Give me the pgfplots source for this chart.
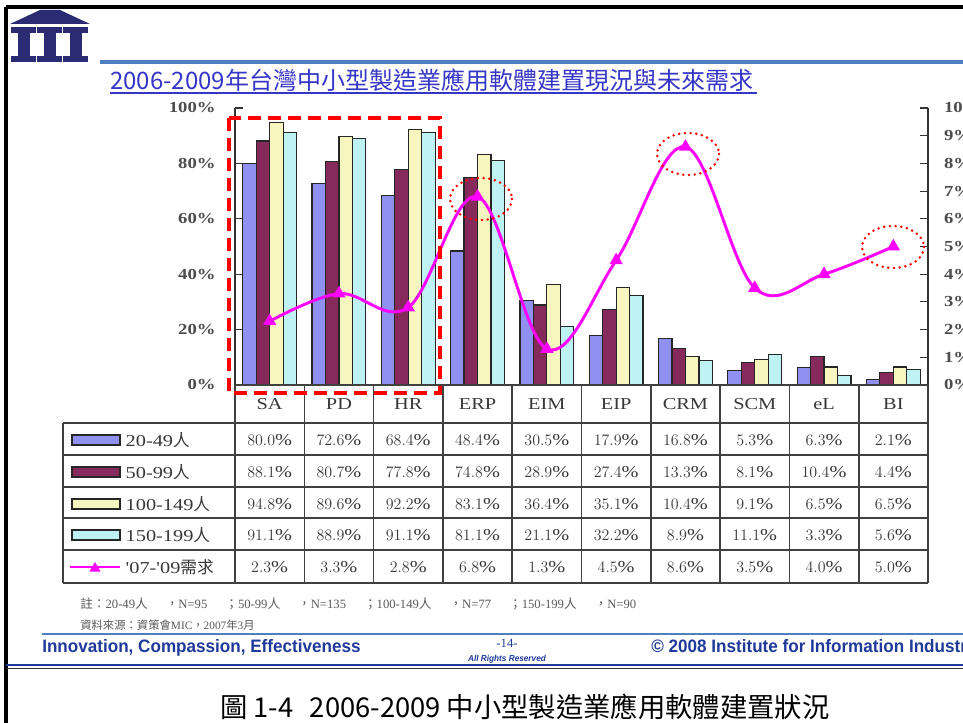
\documentclass[border=0pt]{standalone}
\usepackage{pgfplots}
\pgfplotsset{compat=1.18}
\usepackage{pgfplotstable}
\usepackage{fontspec}
\setmainfont{Liberation Serif}
\newfontfamily\cell[FakeStretch=1.22]{Liberation Serif}
\newfontfamily\cjk{Noto Sans CJK TC}
\newfontfamily\tnr{Liberation Serif}
\newfontfamily\narrow[FakeStretch=0.95]{Liberation Sans}
\newcommand\cj[1]{{\cjk #1}}

\definecolor{cA}{HTML}{9090F0}
\definecolor{cB}{HTML}{862A5C}
\definecolor{cC}{HTML}{F7F5C0}
\definecolor{cD}{HTML}{BFF2F2}
\definecolor{mag}{HTML}{FF00FF}
\definecolor{navy}{HTML}{2B2B73}
\definecolor{steel}{HTML}{4F7FC0}
\definecolor{ttl}{HTML}{3535C8}
\definecolor{foot}{HTML}{1F3A9A}
\definecolor{txt}{HTML}{383838}

% x = category, a..d = company size groups (%), e = '07-'09 demand (%)
\pgfplotstableread{
x cat a    b    c    d    e
0 SA  80.0 88.1 94.8 91.1 2.3
1 PD  72.6 80.7 89.6 88.9 3.3
2 HR  68.4 77.8 92.2 91.1 2.8
3 ERP 48.4 74.8 83.1 81.1 6.8
4 EIM 30.5 28.9 36.4 21.1 1.3
5 EIP 17.9 27.4 35.1 32.2 4.5
6 CRM 16.8 13.3 10.4 8.9  8.6
7 SCM 5.3  8.1  9.1  11.1 3.5
8 eL  6.3  10.4 6.5  3.3  4.0
9 BI  2.1  4.4  6.5  5.6  5.0
}\data

\pgfplotsset{
  base/.style={
    at={(176.25pt,-288.75pt)}, anchor=south west,
    scale only axis, width=519.75pt, height=207.75pt,
    xmin=-0.5, xmax=9.5,
    tick align=inside, major tick length=6pt,
    axis line style={black!80, line width=1pt},
    every tick/.style={black!80, line width=0.8pt},
    /pgf/number format/assume math mode=true,
    yticklabel style={font=\cell\bfseries\fontsize{11.5}{12}\selectfont, text=black!70},
    yticklabel={\pgfmathprintnumber{\tick}\%},
  }
}

\begin{document}
\begin{tikzpicture}
\path[use as bounding box] (0pt,0pt) rectangle (722.25pt,-542.25pt);
\clip (0pt,0pt) rectangle (722.25pt,-542.25pt);
\fill[white] (0pt,0pt) rectangle (722.25pt,-542.25pt);

% bars, left axis
\begin{axis}[base,
  ymin=0, ymax=100,
  axis x line*=bottom, axis y line*=left,
  xtick=\empty, ytick={0,20,...,100},
  yticklabel style={xshift=-11pt},
  ybar=0pt, bar width=10.1pt,
  every axis plot/.append style={draw=black!85, line width=0.9pt},
]
\addplot[fill=cA] table[x=x,y=a]{\data};
\addplot[fill=cB] table[x=x,y=b]{\data};
\addplot[fill=cC] table[x=x,y=c]{\data};
\addplot[fill=cD] table[x=x,y=d]{\data};
\end{axis}

% demand line, right axis
\begin{axis}[base,
  ymin=0, ymax=10,
  axis x line=none, axis y line*=right,
  ytick={0,1,...,10},
  yticklabel style={xshift=8.5pt},
  clip=false,
]
\addplot[mag, line width=2.2pt, smooth, tension=0.6,
  mark=triangle*, mark size=3.6pt, mark options={solid, fill=mag}]
  table[x=x,y=e]{\data};
\end{axis}

\begin{scope}[x=0.75pt, y=-0.75pt]
% frame
\draw[black, line width=2.3pt] (6,7) -- (963,7);
\draw[black, line width=2.3pt] (6,7) -- (6,723);

% logo
\fill[navy] (10,24) -- (40,10) -- (60,10) -- (90,24) -- cycle;
\foreach \L in {11,37,63} {
  \fill[navy] (\L,27) rectangle ++(25,6);
  \fill[navy] (\L+6.5,33) rectangle ++(12,23);
  \fill[navy] (\L,56) rectangle ++(25,6);
}
\draw[steel, line width=2.6pt] (100,62) -- (963,62);

% title
\node[anchor=west, text=ttl, inner sep=0pt] at (110,80)
  {\cjk\fontsize{18}{18}\selectfont 2006-2009年台灣中小型製造業應用軟體建置現況與未來需求};
\draw[ttl, line width=0.8pt] (110,93) -- (757,93);

% table grid
\begin{scope}[draw=black!75, line width=1.2pt]
\foreach \yy in {423,455,487,518,550,583} \draw (63,\yy) -- (928,\yy);
\draw (63,423) -- (63,583);
\draw (235,385) -- (928,385);
\foreach \k in {0,...,10} \draw ({235+69.3*\k},385) -- ({235+69.3*\k},583);
\end{scope}

% header
\foreach \r in {0,...,9} {
  \pgfplotstablegetelem{\r}{cat}\of\data
  \node[text=txt, font=\cell\fontsize{12.5}{12.5}\selectfont] at ({269.65+69.3*\r},404) {\pgfplotsretval};
}
% cells
\foreach \col/\yy in {a/440,b/472,c/504,d/535,e/567} {
  \foreach \r in {0,...,9} {
    \pgfplotstablegetelem{\r}{\col}\of\data
    \node[text=txt, font=\cell\fontsize{12.5}{12.5}\selectfont] at ({269.65+69.3*\r},\yy)
      {\pgfmathprintnumber[fixed,fixed zerofill,precision=1]{\pgfplotsretval}\%};
  }
}

% row keys
\foreach \c/\yy/\lab in {cA/440/20-49, cB/472/50-99, cC/504/100-149, cD/535/150-199} {
  \draw[black!85, line width=0.9pt, fill=\c] (72,\yy-5) rectangle (120,\yy+5);
  \node[anchor=west, text=txt, font=\cell\fontsize{12.5}{12.5}\selectfont] at (121,\yy) {\lab\cj{人}};
}
\draw[mag, line width=2.2pt] (70,567) -- (120,567);
\fill[mag] (89.5,571.5) -- (100.5,571.5) -- (95,562) -- cycle;
\node[anchor=west, text=txt, font=\cell\fontsize{12.5}{12.5}\selectfont] at (121,567) {\symbol{39}07-\symbol{39}09\cj{需求}};

% highlight marks
\draw[red, line width=3.2pt, dash pattern=on 10pt off 5pt] (229,118) rectangle (440,393);
\foreach \cx/\cy in {481/199, 688/154, 893/247}
  \draw[red, line width=2.1pt, line cap=round, dash pattern=on 0pt off 4.3pt]
    (\cx,\cy) ellipse [x radius=31, y radius=21];

% notes
\node[anchor=west, text=black!65, inner sep=0pt, font=\tnr\fontsize{9.5}{9.5}\selectfont] at (80,604)
  {\makebox[417pt][l]{\cj{註：}20-49\cj{人}\hfill\cj{，}N=95\hfill\cj{；}50-99\cj{人}\hfill\cj{，}N=135\hfill\cj{；}100-149\cj{人}\hfill\cj{，}N=77\hfill\cj{；}150-199\cj{人}\hfill\cj{，}N=90}};
\node[anchor=west, text=black!65, inner sep=0pt, font=\tnr\fontsize{8.5}{8.5}\selectfont] at (80,625)
  {\cj{資料來源：資策會}MIC\cj{，}2007\cj{年}3\cj{月}};
\draw[steel, line width=2pt] (42,634) -- (963,634);

% footer
\node[anchor=west, text=foot, inner sep=0pt, font=\narrow\bfseries\fontsize{13.5}{13.5}\selectfont] at (42,648)
  {Innovation, Compassion, Effectiveness};
\node[text=foot, inner sep=0pt, font=\tnr\fontsize{9.5}{9.5}\selectfont] at (507,643) {-14-};
\node[text=foot, inner sep=0pt, font=\narrow\bfseries\itshape\fontsize{6.5}{6.5}\selectfont] at (507,659) {All Rights Reserved};
\node[anchor=west, text=foot, inner sep=0pt, font=\narrow\bfseries\fontsize{13.5}{13.5}\selectfont] at (651,648)
  {\textcopyright{} 2008 Institute for Information Industry};
\draw[foot, line width=1.6pt] (6,665) -- (963,665);
\draw[black!80, line width=1pt] (6,668.5) -- (963,668.5);

% caption
\node[anchor=west, inner sep=0pt] at (220,707)
  {\cjk\fontsize{20.5}{20.5}\selectfont 圖 1-4\hspace{0.6em}2006-2009 中小型製造業應用軟體建置狀況};
\end{scope}
\end{tikzpicture}
\end{document}
